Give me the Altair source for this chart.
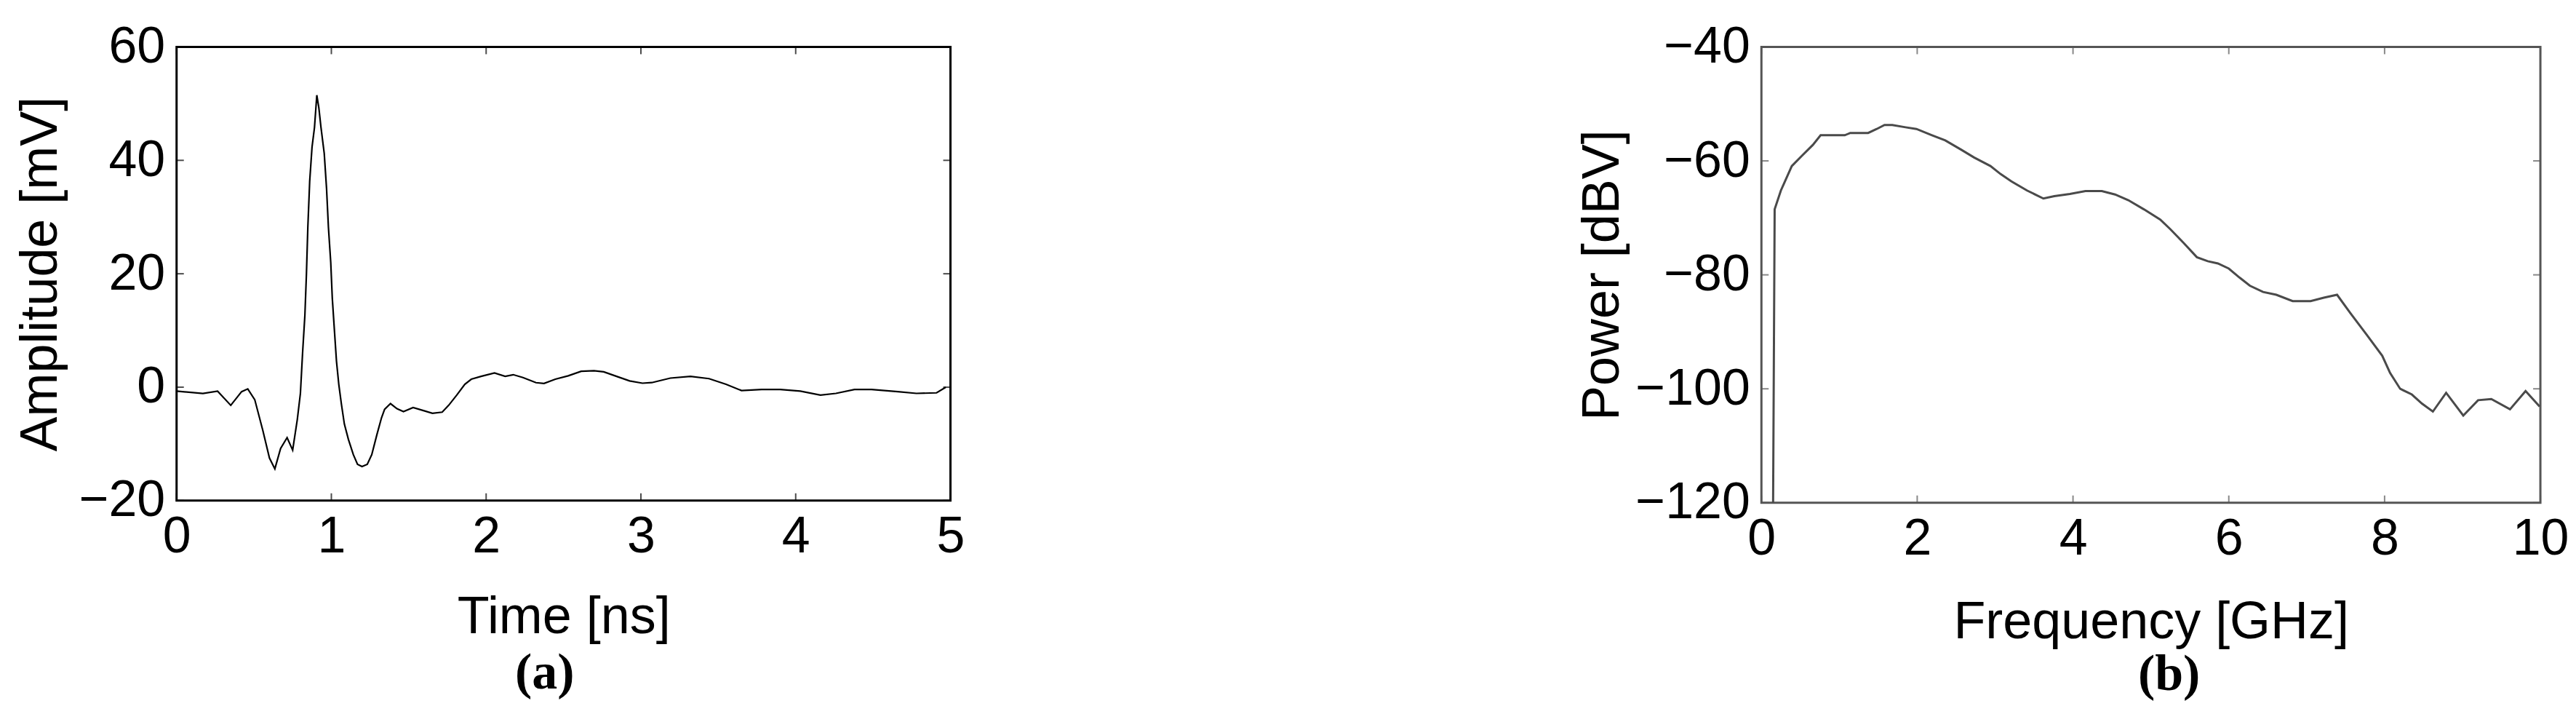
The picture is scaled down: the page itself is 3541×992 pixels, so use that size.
import altair as alt
import pandas as pd

# ---------------- data ----------------
time_ns = [0.0, 0.17, 0.265, 0.35, 0.42, 0.46, 0.505, 0.557, 0.6, 0.635, 0.672, 0.714,
           0.75, 0.78, 0.8, 0.814, 0.829, 0.839, 0.848, 0.86, 0.875, 0.891, 0.906, 0.919,
           0.933, 0.954, 0.969, 0.981, 0.996, 1.006, 1.021, 1.033, 1.048, 1.065, 1.084,
           1.11, 1.142, 1.169, 1.198, 1.232, 1.261, 1.294, 1.324, 1.344, 1.382, 1.424,
           1.466, 1.528, 1.591, 1.653, 1.716, 1.758, 1.81, 1.862, 1.904, 1.967, 2.054,
           2.123, 2.175, 2.238, 2.322, 2.374, 2.447, 2.53, 2.614, 2.697, 2.76, 2.843,
           2.927, 3.01, 3.07, 3.19, 3.32, 3.44, 3.55, 3.65, 3.78, 3.9, 4.03, 4.16, 4.26,
           4.38, 4.49, 4.66, 4.78, 4.91, 4.97]
amplitude_mv = [-0.7, -1.1, -0.7, -3.2, -0.8, -0.3, -2.2, -7.6, -12.5, -14.4, -10.8, -8.9,
                -11.1, -5.7, -1.1, 6.0, 12.7, 20.0, 28.2, 36.3, 42.3, 45.8, 51.5, 49.3,
                45.8, 41.2, 35.0, 28.2, 22.0, 15.7, 9.5, 4.6, 0.5, -3.0, -6.5,
                -9.2, -11.9, -13.6, -14.0, -13.6, -11.9, -8.4, -5.4, -3.9, -2.9, -3.8,
                -4.3, -3.6, -4.1, -4.6, -4.4, -3.2, -1.4, 0.5, 1.4, 1.9, 2.5,
                1.9, 2.2, 1.7, 0.8, 0.65, 1.4, 2.0, 2.8, 2.9, 2.7, 1.9,
                1.1, 0.7, 0.8, 1.6, 1.9, 1.5, 0.5, -0.6, -0.4, -0.4, -0.7, -1.4, -1.1,
                -0.4, -0.4, -0.8, -1.1, -1.0, 0.0]

freq_ghz = [0.15, 0.17, 0.25, 0.39, 0.52, 0.66, 0.76, 1.07, 1.14, 1.37, 1.48, 1.58, 1.68,
            1.85, 1.99, 2.19, 2.36, 2.56, 2.73, 2.94, 3.07, 3.21, 3.41, 3.62, 3.76, 3.96,
            4.16, 4.37, 4.54, 4.71, 4.91, 5.12, 5.25, 5.42, 5.59, 5.73, 5.86, 6.0, 6.14,
            6.27, 6.44, 6.61, 6.82, 7.05, 7.22, 7.39, 7.56, 7.77, 7.97, 8.07, 8.2, 8.35,
            8.48, 8.62, 8.79, 9.01, 9.2, 9.37, 9.61, 9.81, 9.99]
power_dbv = [-120.0, -68.5, -65.2, -60.9, -59.1, -57.2, -55.5, -55.5, -55.1, -55.1, -54.4,
             -53.7, -53.7, -54.1, -54.4, -55.5, -56.4, -58.0, -59.4, -60.9, -62.3, -63.6,
             -65.2, -66.6, -66.2, -65.8, -65.3, -65.3, -65.9, -66.9, -68.5, -70.3, -72.0,
             -74.4, -76.9, -77.6, -78.0, -78.9, -80.5, -81.9, -83.0, -83.5, -84.6, -84.6,
             -84.0, -83.5, -86.7, -90.5, -94.2, -97.2, -100.0, -101.0, -102.6, -104.0,
             -100.7, -104.7, -102.0, -101.8, -103.6, -100.4, -103.1]

x_ticks_a = [0, 1, 2, 3, 4, 5]
y_ticks_a = [-20, 0, 20, 40, 60]
x_ticks_b = [0, 2, 4, 6, 8, 10]
y_ticks_b = [-120, -100, -80, -60, -40]

x_title_a = "Time [ns]"
y_title_a = "Amplitude [mV]"
x_title_b = "Frequency [GHz]"
y_title_b = "Power [dBV]"
captions = ["(a)", "(b)"]

# ---------------- styling ----------------
FONT = "Liberation Sans"
SERIF = "Liberation Serif"
LABEL_FS = 70
TITLE_FS = 72
CAP_FS = 70
TICK_LEN = 10


def panel(xvals, yvals, xdom, ydom, xt, yt, xtitle, ytitle, line_color, line_w,
          frame_color, title_x, title_pad, W, H, caption, cap_dx, cap_offset):
    df = pd.DataFrame({"x": xvals, "y": yvals})
    xs = alt.Scale(domain=xdom, nice=False, zero=False)
    ys = alt.Scale(domain=ydom, nice=False, zero=False)
    common = dict(ticks=False, domain=False, grid=False,
                  labelFontSize=LABEL_FS, labelFont=FONT, labelColor="black",
                  labelFlush=False, labelOverlap=False, labelPadding=16,
                  titleFontSize=TITLE_FS, titleFont=FONT, titleFontWeight="normal",
                  titleColor="black", format="d")
    xaxis = alt.Axis(values=xt, title=xtitle, titlePadding=title_pad, **common)
    yaxis = alt.Axis(values=yt, title=ytitle, titleX=title_x, **common)

    X = alt.X("x:Q", scale=xs, axis=xaxis)
    Y = alt.Y("y:Q", scale=ys, axis=yaxis)
    line = alt.Chart(df).mark_line(color=line_color, strokeWidth=line_w, clip=True).encode(
        x=X, y=Y)

    xtdf = pd.DataFrame({"x": xt})
    ytdf = pd.DataFrame({"y": yt})
    tb = alt.Chart(xtdf).mark_tick(orient="vertical", size=TICK_LEN, thickness=2,
                                   color=frame_color).encode(
        x=X, y=alt.value(H - TICK_LEN / 2))
    tt = alt.Chart(xtdf).mark_tick(orient="vertical", size=TICK_LEN, thickness=2,
                                   color=frame_color).encode(
        x=X, y=alt.value(TICK_LEN / 2))
    tl = alt.Chart(ytdf).mark_tick(orient="horizontal", size=TICK_LEN, thickness=2,
                                   color=frame_color).encode(
        y=Y, x=alt.value(TICK_LEN / 2))
    tr = alt.Chart(ytdf).mark_tick(orient="horizontal", size=TICK_LEN, thickness=2,
                                   color=frame_color).encode(
        y=Y, x=alt.value(W - TICK_LEN / 2))

    return alt.layer(line, tb, tt, tl, tr).properties(
        width=W, height=H,
        view=alt.ViewBackground(stroke=frame_color, strokeWidth=3, fill="white"),
        title=alt.TitleParams(text=caption, orient="bottom", anchor="middle",
                              frame="group", dx=cap_dx, offset=cap_offset,
                              font=SERIF, fontSize=CAP_FS, fontWeight="bold",
                              color="black"),
    )


left = panel(time_ns, amplitude_mv, [0, 5], [-20, 60], x_ticks_a, y_ticks_a,
             x_title_a, y_title_a, "black", 2.2, "black", -150, 40, 1065, 624,
             captions[0], -26, 8)
right = panel(freq_ghz, power_dbv, [0, 10], [-120, -40], x_ticks_b, y_ticks_b,
              x_title_b, y_title_b, "#4a4a4a", 3, "#555555", -182, 44, 1072, 627,
              captions[1], 25, 3)

chart = alt.hconcat(left, right, spacing=1116, bounds="flush").properties(
    padding={"left": 10, "top": 19, "right": 0, "bottom": 5},
    background="white",
)

chart.save("out.html", embed_options={"renderer": "svg", "actions": False})
